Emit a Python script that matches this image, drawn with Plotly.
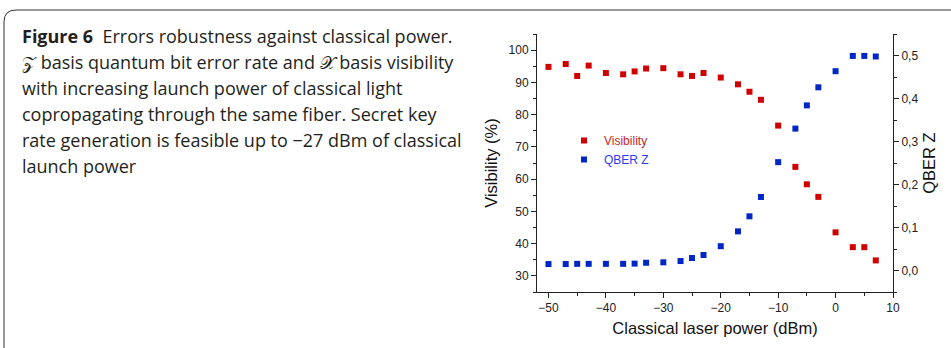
import plotly.graph_objects as go

# ---- data ----
power_dbm = [-50, -47, -45, -43, -40, -37, -35, -33, -30, -27, -25, -23,
             -20, -17, -15, -13, -10, -7, -5, -3, 0, 3, 5, 7]
visibility = [94.8, 95.7, 92.0, 95.2, 92.9, 92.5, 93.4, 94.3, 94.4, 92.5, 92.0, 92.9,
              91.5, 89.4, 87.1, 84.6, 76.6, 63.8, 58.4, 54.5, 43.5, 38.9, 38.9, 34.8]
qber_z = [0.015, 0.015, 0.0155, 0.0155, 0.0155, 0.0155, 0.016, 0.018, 0.019, 0.022, 0.029, 0.036,
          0.0565, 0.091, 0.126, 0.171, 0.252, 0.330, 0.384, 0.426, 0.4635, 0.499, 0.499, 0.4977]

x_ticks = [-50, -40, -30, -20, -10, 0, 10]
y_ticks = [30, 40, 50, 60, 70, 80, 90, 100]
y2_ticks = [0.0, 0.1, 0.2, 0.3, 0.4, 0.5]
y2_labels = ["0,0", "0,1", "0,2", "0,3", "0,4", "0,5"]

caption_lines = [
    "<b>Figure 6</b>  Errors robustness against classical power.",
    "\U0001D4B5 basis quantum bit error rate and \U0001D4B3 basis visibility",
    "with increasing launch power of classical light",
    "copropagating through the same fiber. Secret key",
    "rate generation is feasible up to \u221227 dBm of classical",
    "launch power",
]

RED = "#d00000"
BLUE = "#0026c8"
AX_FONT = dict(family="Liberation Sans, Arial, sans-serif", size=12, color="#222")
TITLE_FONT = dict(family="Liberation Sans, Arial, sans-serif", size=16.5, color="#111")

W, H = 951, 348
L, R, T, B = 537, 58, 34, 56
PW, PH = W - L - R, H - T - B

def px_x(px):
    return (px - L) / PW

def px_y(py):
    return (H - B - py) / PH

fig = go.Figure()
fig.add_trace(go.Scatter(
    x=power_dbm, y=visibility, mode="markers",
    name="<span style='color:#cc1f1f'>Visibility</span>",
    marker=dict(symbol="square", size=6, color=RED),
    yaxis="y",
))
fig.add_trace(go.Scatter(
    x=power_dbm, y=qber_z, mode="markers",
    name="<span style='color:#2b3cf0'>QBER Z</span>",
    marker=dict(symbol="square", size=6, color=BLUE),
    yaxis="y2",
))

fig.update_layout(
    width=W, height=H, autosize=False,
    margin=dict(l=L, r=R, t=T, b=B, pad=0),
    paper_bgcolor="white", plot_bgcolor="white",
    showlegend=True,
    legend=dict(x=px_x(564), y=px_y(126), xanchor="left", yanchor="top",
                bgcolor="rgba(0,0,0,0)", borderwidth=0, tracegroupgap=0,
                font=dict(family="Liberation Sans, Arial, sans-serif", size=12)),
    xaxis=dict(
        range=[-52, 10], tickmode="array", tickvals=x_ticks,
        ticks="outside", ticklen=5, tickwidth=1, tickcolor="#222",
        showline=True, linecolor="#222", linewidth=1,
        showgrid=False, zeroline=False, tickfont=AX_FONT,
        minor=dict(tickmode="linear", tick0=-50, dtick=5, ticks="outside", ticklen=3,
                   tickcolor="#222", showgrid=False),
        title=dict(text="Classical laser power (dBm)", standoff=8, font=TITLE_FONT),
    ),
    xaxis2=dict(
        overlaying="x", side="top", range=[-52, 10], anchor="y",
        tickmode="linear", tick0=-50, dtick=5, ticks="inside", ticklen=4,
        tickcolor="#222", showticklabels=False,
        showline=True, linecolor="#222", linewidth=1,
        showgrid=False, zeroline=False,
    ),
    yaxis=dict(
        range=[25, 105], tickmode="array", tickvals=y_ticks,
        ticks="outside", ticklen=5, tickwidth=1, tickcolor="#222",
        showline=True, linecolor="#222", linewidth=1,
        showgrid=False, zeroline=False, tickfont=AX_FONT,
        minor=dict(tickmode="linear", tick0=25, dtick=5, ticks="outside", ticklen=3,
                   tickcolor="#222", showgrid=False),
        title=dict(text="Visibility (%)", standoff=6, font=TITLE_FONT),
    ),
    yaxis2=dict(
        overlaying="y", side="right", anchor="x",
        range=[-0.05, 0.55], tickmode="array", tickvals=y2_ticks, ticktext=y2_labels,
        ticks="outside", ticklen=5, tickwidth=1, tickcolor="#222",
        showline=True, linecolor="#222", linewidth=1,
        showgrid=False, zeroline=False, tickfont=AX_FONT,
        minor=dict(tickmode="linear", tick0=-0.05, dtick=0.05, ticks="outside", ticklen=3,
                   tickcolor="#222", showgrid=False),
        title=dict(text="QBER Z", standoff=6, font=TITLE_FONT),
    ),
)

# caption box (rounded top-left corner)
x0, x1, xe = px_x(4), px_x(16), px_x(951)
y0, y1, yb = px_y(10), px_y(22), px_y(349)
fig.add_shape(type="path", xref="paper", yref="paper",
              path=f"M {x0},{yb} L {x0},{y1} Q {x0},{y0} {x1},{y0} L {xe},{y0}",
              line=dict(color="#333", width=1))

line_y = [36, 62, 88, 114, 140, 166]
for txt, yy in zip(caption_lines, line_y):
    fig.add_annotation(text=txt, xref="paper", yref="paper",
                       x=px_x(20), y=px_y(yy), xanchor="left", yanchor="middle",
                       showarrow=False,
                       font=dict(family="Open Sans, Noto Sans, sans-serif", size=18, color="#231f20"))

fig.write_html("out.html")
